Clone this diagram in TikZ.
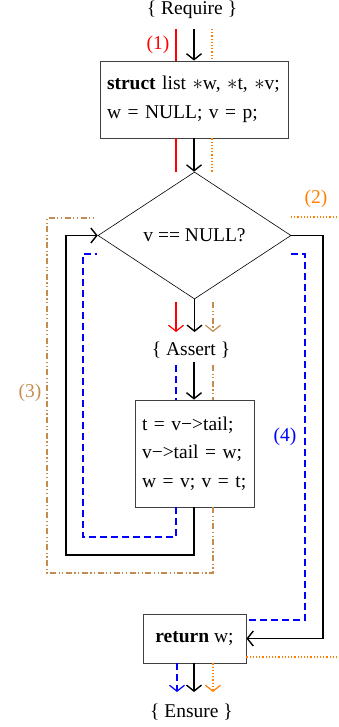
\documentclass[tikz,border=0pt]{standalone}
\usepackage{fontspec}
\setmainfont{Liberation Serif}
\usetikzlibrary{shapes.geometric,arrows.meta}

\definecolor{tan3}{RGB}{196,140,78}

\tikzset{
  tag/.style={inner sep=1pt},
  block/.style={draw=black!75, fill=white, line width=0.8pt, inner xsep=7pt, inner ysep=0pt, align=left},
  test/.style={draw, diamond, inner sep=0pt, minimum width=193pt, minimum height=127pt, line width=0.6pt},
  tip/.style={-{Straight Barb[length=6pt,width=15pt]}},
  ctrl/.style={line width=1.4pt},
  pone/.style={red, line width=1.2pt},
  ptwo/.style={orange, line width=1.2pt, dash pattern=on 1.2pt off 2pt},
  pthree/.style={tan3, line width=1.2pt, dash pattern=on 6pt off 2.5pt on 1.2pt off 2.5pt on 1.2pt off 2.5pt},
  pfour/.style={blue, line width=1.2pt, dash pattern=on 7pt off 4pt},
}

\begin{document}
\begin{tikzpicture}[x=1pt, y=-1pt, font=\fontsize{19.5}{28.5}\selectfont]
  \useasboundingbox (0,0) rectangle (338,727);

  % Blocks
  \node[tag] (req) at (192,10) {\{ Require \}};
  \node[block, minimum width=188pt, minimum height=77pt, text width=174pt] (init) at (194,99.5)
    {\textbf{struct} list $*$w, $*$t, $*$v;\\ w = NULL; v = p;};
  \node[test] (cond) at (194.5,235.5) {v == NULL?};
  \node[tag] (assert) at (191,350) {\{ Assert \}};
  \node[block, minimum width=119pt, minimum height=107pt, text width=105pt] (body) at (194.5,453.5)
    {t = v−>tail;\\ v−>tail = w;\\ w = v; v = t;};
  \node[block, align=center, minimum width=103pt, minimum height=49pt] (ret) at (194.5,638.5)
    {\textbf{return} w;};
  \node[tag] (ens) at (191.5,712) {\{ Ensure \}};

  % Path labels
  \node[red] (l1) at (158,45) {(1)};
  \node[orange] (l2) at (316,199) {(2)};
  \node[tan3] (l3) at (30,393) {(3)};
  \node[blue] (l4) at (285,437) {(4)};

  % Control flow
  \coordinate (k0) at (194,29);
  \coordinate (k1) at (194,332);
  \coordinate (k2) at (194,362);
  \coordinate (k3) at (194,692);
  \coordinate (kl) at (66,555);
  \coordinate (kr) at (323,639);
  \draw[ctrl, tip] (k0) -- (k0 |- init.north);
  \draw[ctrl, tip] (init.south -| k0) -- (k0 |- cond.north);
  \draw[ctrl, tip] (cond.south) -- (cond.south |- k1);
  \draw[ctrl, tip] (k2) -- (k2 |- body.north);
  \draw[ctrl, tip] (body.south -| k2) |- (kl) |- (cond.west);
  \draw[ctrl, tip] (cond.east) -| (kr |- ret.east) -- (ret.east);
  \draw[ctrl, tip] (ret.south -| k3) -- (k3);

  % Path (1)
  \coordinate (r0) at (176,29);
  \coordinate (r1) at (176,302);
  \coordinate (r2) at (176,332);
  \draw[pone] (r0) -- (r0 |- init.north);
  \draw[pone] (r0 |- init.south) -- (r0 |- cond.north);
  \draw[pone, tip] (r1) -- (r2);

  % Path (2)
  \coordinate (o0) at (212,29);
  \coordinate (o1) at (291,217);
  \coordinate (o2) at (338,217);
  \coordinate (o3) at (338,657);
  \coordinate (o4) at (213,692);
  \draw[ptwo] (o0) -- (o0 |- init.north);
  \draw[ptwo] (o0 |- init.south) -- (o0 |- cond.north);
  \draw[ptwo] (o1) -- (o2);
  \draw[ptwo] (o3 -| ret.east) -- (o3);
  \draw[ptwo, tip] (ret.south -| o4) -- (o4);

  % Path (3)
  \coordinate (b0) at (213,302);
  \coordinate (b1) at (213,332);
  \coordinate (b2) at (213,365);
  \coordinate (bl) at (47,573);
  \coordinate (b3) at (93,218);
  \draw[pthree, tip] (b0) -- (b1);
  \draw[pthree] (b2) -- (b2 |- body.north);
  \draw[pthree] (body.south -| b2) |- (bl) |- (b3);

  % Path (4)
  \coordinate (u0) at (176,365);
  \coordinate (u1) at (97,254);
  \coordinate (u2) at (291,254);
  \coordinate (u3) at (177,692);
  \coordinate (ul) at (83,537);
  \coordinate (ur) at (305,620);
  \draw[pfour] (u0) -- (u0 |- body.north);
  \draw[pfour] (body.south -| u0) |- (ul) |- (u1);
  \draw[pfour] (u2) -| (ur) -- (ur -| ret.east);
  \draw[pfour, tip] (ret.south -| u3) -- (u3);
\end{tikzpicture}
\end{document}
